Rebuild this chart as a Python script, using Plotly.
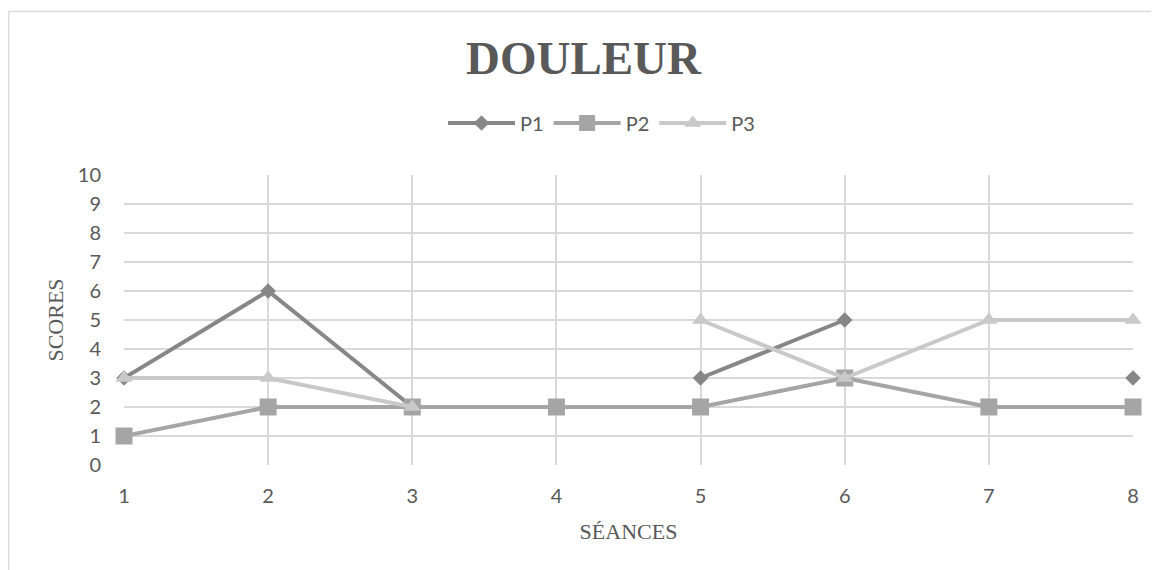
import plotly.graph_objects as go

seances = [1, 2, 3, 4, 5, 6, 7, 8]
p1 = [3, 6, 2, None, 3, 5, None, 3]
p2 = [1, 2, 2, 2, 2, 3, 2, 2]
p3 = [3, 3, 2, None, 5, 3, 5, 5]

series = [
    ("P1", p1, "#878787", "diamond", 12),
    ("P2", p2, "#A5A5A5", "square", 17),
    ("P3", p3, "#C9C9C9", "triangle-up", 15),
]

fig = go.Figure()
for name, vals, col, sym, sz in series:
    fig.add_trace(go.Scatter(
        x=seances, y=vals, name=name, mode="lines+markers",
        line=dict(color=col, width=4),
        marker=dict(symbol=sym, size=sz, color=col),
        cliponaxis=False, connectgaps=False,
    ))

# page has an 8px body margin; figure is sized to fit the window
OFF = 8
W, H = 1159 - OFF, 570 - OFF
L, T = 124 - OFF, 175 - OFF
pw, ph = 1009, 290
R = W - L - pw
B = H - T - ph

def px_to_paper_x(px):
    return (px - OFF - L) / pw

def px_to_paper_y(py):
    return (T + ph - (py - OFF)) / ph

bx = px_to_paper_x(8.5)
by = px_to_paper_y(11.5)

fig.update_layout(
    width=W, height=H,
    margin=dict(l=L, r=R, t=T, b=B),
    paper_bgcolor="white", plot_bgcolor="white",
    title=dict(text="<b>DOULEUR</b>", x=0.5, xanchor="center",
               y=1 - (58 - OFF) / H, yanchor="middle",
               font=dict(family="Liberation Serif", size=47, color="#595959")),
    legend=dict(orientation="h", x=0.5 - 27 / pw, xanchor="center",
                y=px_to_paper_y(123), yanchor="middle",
                font=dict(family="Lato", size=20, color="#595959"),
                itemwidth=67, tracegroupgap=0),
    xaxis=dict(range=[1, 8], tickvals=seances, ticktext=[str(s) for s in seances],
               showgrid=True, gridcolor="#D9D9D9", gridwidth=1.5,
               zeroline=False, showline=False,
               ticks="outside", ticklen=13, tickcolor="rgba(0,0,0,0)",
               tickfont=dict(family="Lato", size=20, color="#595959"),
               title=dict(text="SÉANCES", standoff=17,
                          font=dict(family="Liberation Serif", size=22, color="#595959"))),
    yaxis=dict(range=[0, 10], dtick=1, showgrid=True, gridcolor="#D9D9D9", gridwidth=1.5,
               zeroline=False, showline=False,
               ticks="outside", ticklen=18, tickcolor="rgba(0,0,0,0)",
               tickfont=dict(family="Lato", size=20, color="#595959"),
               title=dict(text="SCORES", standoff=8,
                          font=dict(family="Liberation Serif", size=22, color="#595959"))),
    showlegend=True,
    shapes=[
        dict(type="line", xref="paper", yref="paper", x0=bx, x1=bx, y0=-0.5, y1=by,
             line=dict(color="#D9D9D9", width=1.5)),
        dict(type="line", xref="paper", yref="paper", x0=bx, x1=1.2, y0=by, y1=by,
             line=dict(color="#D9D9D9", width=1.5)),
    ],
)

fig.write_html("out.html")
